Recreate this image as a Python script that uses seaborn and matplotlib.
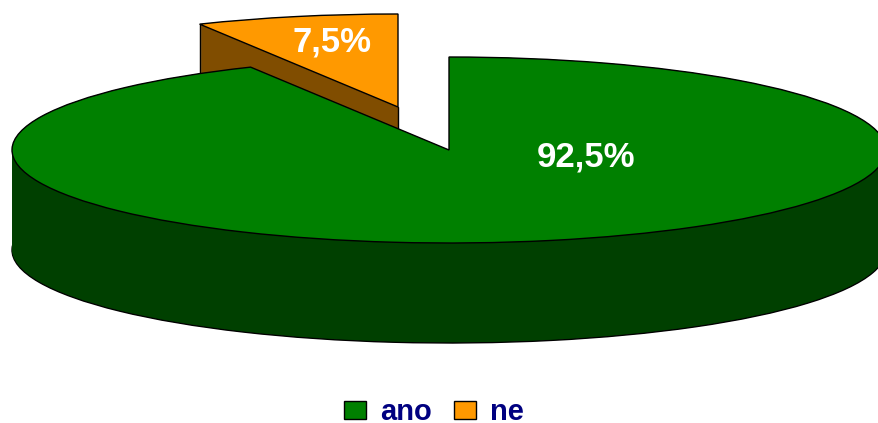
import matplotlib
matplotlib.use("Agg")
import matplotlib.pyplot as plt
import numpy as np
import seaborn as sns
from matplotlib.patches import Patch

categories = ["ano", "ne"]
values = [92.5, 7.5]
top_colors = ["#008000", "#FF9900"]
side_colors = ["#004000", "#804D00"]
label_color = "#000080"

W, H = 879, 423
cx, cy, rx, ry, depth = 449, 150, 437, 93, 100
explode_dx, explode_dy = -51, -43

sns.set_theme(style="white")
plt.rcParams["font.family"] = ["Liberation Sans", "DejaVu Sans"]

fig = plt.figure(figsize=(W / 100, H / 100), dpi=100)
ax = fig.add_axes([0, 0, 1, 1])


def ux(dx):
    return dx / rx


def uy(dy):
    return -dy / ry


def draw_slices(idx, dx, dy, z):
    # stacked layers of matplotlib's own pie build the wall, then the top face
    start_angle = 90 - 360 * sum(values[:idx]) / sum(values)
    share = values[idx] / sum(values) * 100
    for step in range(depth, -1, -1):
        is_bottom = step == depth
        wedges, _ = ax.pie(
            [share, 100 - share],
            startangle=start_angle, counterclock=False,
            center=(ux(dx), uy(dy + step)), radius=1,
            colors=[side_colors[idx], "none"],
            wedgeprops=dict(linewidth=1.0 if is_bottom else 0,
                            edgecolor="black" if is_bottom else side_colors[idx],
                            zorder=z),
            frame=True,
        )
        wedges[1].set_visible(False)
    wedges, _ = ax.pie(
        [share, 100 - share],
        startangle=start_angle, counterclock=False,
        center=(ux(dx), uy(dy)), radius=1,
        colors=[top_colors[idx], "none"],
        wedgeprops=dict(linewidth=1.0, edgecolor="black", zorder=z + 0.1),
        frame=True,
    )
    wedges[1].set_visible(False)


draw_slices(1, explode_dx, explode_dy, 1)
# vertical wall edges of the exploded slice, from the slice's own angle
theta = np.deg2rad(values[1] / sum(values) * 360)
ax.plot([ux(explode_dx) - np.sin(theta)] * 2,
        [uy(explode_dy) + np.cos(theta), uy(explode_dy + depth) + np.cos(theta)],
        color="black", lw=1.0, zorder=2)
ax.plot([ux(explode_dx)] * 2,
        [uy(explode_dy), uy(explode_dy + depth)],
        color="black", lw=1.0, zorder=2)
draw_slices(0, 0, 0, 3)

ax.set_aspect("auto")
ax.set_xlim(ux(0 - cx), ux(W - cx))
ax.set_ylim(uy(H - cy), uy(0 - cy))
ax.axis("off")


def fmt(v):
    return f"{v:.1f}%".replace(".", ",")


ax.text(ux(586 - cx), uy(157 - cy), fmt(values[0]), color="white", zorder=5,
        fontsize=25, fontweight="bold", ha="center", va="center")
ax.text(ux(332 - cx), uy(42 - cy), fmt(values[1]), color="white", zorder=5,
        fontsize=25, fontweight="bold", ha="center", va="center")

handles = [Patch(facecolor=c, edgecolor="black", linewidth=1.0) for c in top_colors]
fig.legend(handles, categories, loc="center", bbox_to_anchor=(434 / W, 1 - 412 / H),
           ncol=2, frameon=False, prop=dict(size=21, weight="bold"),
           labelcolor=label_color, handlelength=0.75, handleheight=0.58,
           handletextpad=0.48, columnspacing=0.78, borderpad=0)

fig.savefig("out.png", dpi=100)
